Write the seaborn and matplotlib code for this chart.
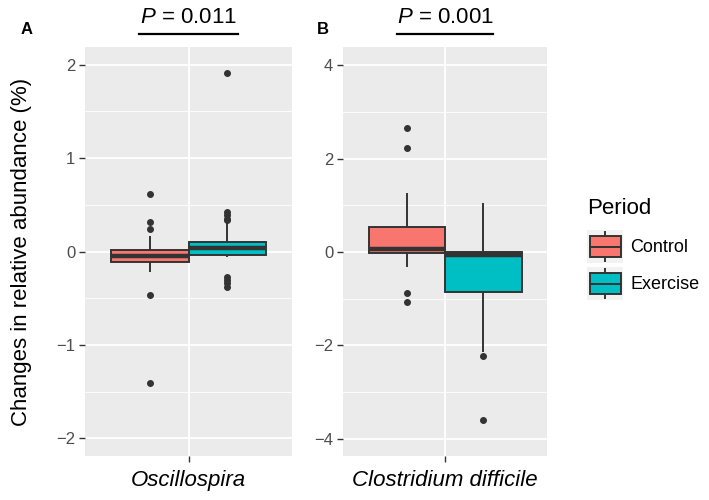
import pandas as pd
import numpy as np
import matplotlib
matplotlib.use('Agg')
import matplotlib.pyplot as plt
import seaborn as sns
from matplotlib.patches import Rectangle, Patch
from matplotlib.lines import Line2D
from matplotlib.legend_handler import HandlerBase
from matplotlib.ticker import MultipleLocator
import matplotlib.transforms as mtransforms

# ── Data ─────────────────────────────────────────────────────────────────────
periods = ['Control', 'Exercise']
taxa = ['Oscillospira', 'Clostridium difficile']
p_values = ['0.011', '0.001']
panel_tags = ['A', 'B']

osc_control = [-1.404, -0.467, -0.218, -0.15, -0.114, -0.09, -0.07, -0.055, -0.046,
               -0.03, -0.01, 0.0, 0.014, 0.164, 0.243, 0.317, 0.613]
osc_exercise = [-0.378, -0.34, -0.31, -0.27, -0.06, -0.045, -0.039, -0.03, -0.02,
                -0.005, 0.01, 0.025, 0.039, 0.05, 0.06, 0.075, 0.09, 0.1, 0.107,
                0.307, 0.335, 0.353, 0.389, 0.428, 1.91]
cdiff_control = [-1.064, -0.88, -0.314, -0.1, -0.028, 0.0, 0.02, 0.04, 0.06,
                 0.15, 0.3, 0.45, 0.529, 0.8, 1.257, 2.23, 2.65]
cdiff_exercise = [-3.597, -2.23, -2.15, -0.863, -0.6, -0.3, -0.064, -0.04, -0.01,
                  0.007, 0.4, 0.8, 1.04]

colors = {'Control': '#F8766D', 'Exercise': '#00BFC4'}


def make_frame(taxon, ctrl, exer):
    return pd.DataFrame({
        'taxon': [taxon] * (len(ctrl) + len(exer)),
        'Period': ['Control'] * len(ctrl) + ['Exercise'] * len(exer),
        'value': ctrl + exer,
    })


df_a = make_frame(taxa[0], osc_control, osc_exercise)
df_b = make_frame(taxa[1], cdiff_control, cdiff_exercise)

# ── Style ────────────────────────────────────────────────────────────────────
plt.rcParams['font.family'] = ['Liberation Sans', 'DejaVu Sans']
plt.rcParams['mathtext.fontset'] = 'custom'
plt.rcParams['mathtext.rm'] = 'Liberation Sans'
plt.rcParams['mathtext.it'] = 'Liberation Sans:italic'

fig = plt.figure(figsize=(7.09, 5.0), dpi=100)
W, H = 709, 500
ax_a = fig.add_axes([85 / W, 1 - 456 / H, 207 / W, 409 / H])
ax_b = fig.add_axes([343 / W, 1 - 456 / H, 204 / W, 409 / H])

line_col = '#333333'


def draw_panel(ax, df, ylim, major, minor, tag, pval, tag_x):
    sns.boxplot(data=df, x='taxon', y='value', hue='Period', hue_order=periods,
                palette=colors, saturation=1, width=0.9, gap=0, whis=1.5, ax=ax,
                linecolor=line_col, linewidth=1.4, fliersize=4.0,
                showcaps=False,
                flierprops=dict(marker='o', markerfacecolor=line_col,
                                markeredgecolor=line_col),
                medianprops=dict(color=line_col, linewidth=3.2),
                legend=False)
    ax.set_xlim(-0.6, 0.6)
    ax.set_ylim(*ylim)
    ax.set_facecolor('#EBEBEB')
    for s in ax.spines.values():
        s.set_visible(False)
    ax.yaxis.set_major_locator(MultipleLocator(major))
    ax.yaxis.set_minor_locator(MultipleLocator(minor))
    ax.set_axisbelow(True)
    ax.grid(which='major', color='white', linewidth=1.3)
    ax.grid(which='minor', axis='y', color='white', linewidth=0.6)
    ax.tick_params(which='minor', length=0)
    ax.tick_params(which='major', length=4, width=1.0, color=line_col,
                   labelsize=12, labelcolor='#4D4D4D', pad=3)
    ax.tick_params(axis='x', labelsize=16, labelcolor='black', pad=6)
    for t in ax.get_xticklabels():
        t.set_fontstyle('italic')
    ax.set_xlabel('')
    ax.set_ylabel('')
    # significance bar
    trans = mtransforms.blended_transform_factory(ax.transData, ax.transAxes)
    ax.add_line(Line2D([-0.285, 0.285], [1.032, 1.032], transform=trans,
                       color='black', linewidth=1.6, clip_on=False))
    ax.text(0, 1.072, '$P$ = ' + pval, transform=trans, ha='center',
            va='center', fontsize=16, clip_on=False)
    fig.text(tag_x / W, 1 - 30 / H, tag, fontsize=12, fontweight='bold',
             ha='center', va='center')


draw_panel(ax_a, df_a, (-2.19, 2.19), 1, 0.5, panel_tags[0], p_values[0], 27)
draw_panel(ax_b, df_b, (-4.37, 4.39), 2, 1, panel_tags[1], p_values[1], 323)

fig.text(22 / W, 0.496, 'Changes in relative abundance (%)', rotation=90,
         ha='center', va='center', fontsize=16)


# ── Legend with ggplot-like box keys ─────────────────────────────────────────
class BoxKey(HandlerBase):
    def create_artists(self, legend, orig_handle, xdescent, ydescent, width,
                       height, fontsize, trans):
        x0, y0 = -xdescent, -ydescent
        fc = orig_handle.get_facecolor()
        bg = Rectangle((x0, y0), width, height, facecolor='#F2F2F2',
                       edgecolor='none', transform=trans)
        cx = x0 + width / 2
        whisk = Line2D([cx, cx], [y0 + height * 0.05, y0 + height * 0.95],
                       color=line_col, linewidth=1.4, transform=trans)
        bx = Rectangle((x0 + width * 0.07, y0 + height * 0.18), width * 0.86,
                       height * 0.64, facecolor=fc, edgecolor=line_col,
                       linewidth=1.4, transform=trans)
        med = Line2D([x0 + width * 0.07, x0 + width * 0.93],
                     [y0 + height / 2, y0 + height / 2], color=line_col,
                     linewidth=1.4, transform=trans)
        return [bg, whisk, bx, med]


fig.text(587 / W, 1 - 209 / H, 'Period', fontsize=16, ha='left', va='center')
handles = [Patch(facecolor=colors[p]) for p in periods]
leg = fig.legend(handles, periods, loc='upper left',
                 bbox_to_anchor=(587 / W, 1 - 230 / H), frameon=False,
                 fontsize=13, handler_map={Patch: BoxKey()}, handlelength=2.0,
                 handleheight=2.44, handletextpad=0.4, labelspacing=0.22,
                 borderpad=0, borderaxespad=0)

fig.savefig('out.png', dpi=100)
